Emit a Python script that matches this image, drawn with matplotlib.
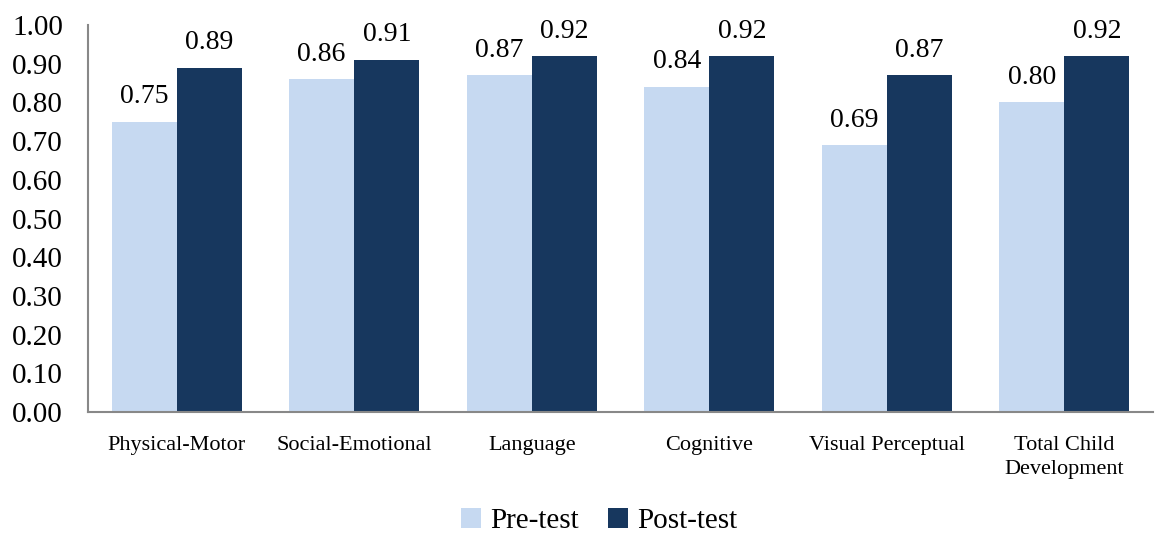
import numpy as np
import matplotlib.pyplot as plt

categories = ["Physical-Motor", "Social-Emotional", "Language", "Cognitive",
              "Visual Perceptual", "Total Child\nDevelopment"]
pre_test = [0.75, 0.86, 0.87, 0.84, 0.69, 0.80]
post_test = [0.89, 0.91, 0.92, 0.92, 0.87, 0.92]

plt.rcParams['font.family'] = ['Liberation Serif', 'DejaVu Serif']

fig = plt.figure(figsize=(11.56, 5.33), dpi=100)
ax = fig.add_axes([0.0761, 0.227, 0.9213, 0.726])

x = np.arange(len(categories))
w = 0.367
b1 = ax.bar(x - w / 2, pre_test, w, color='#C6D9F1', label='Pre-test')
b2 = ax.bar(x + w / 2, post_test, w, color='#17375E', label='Post-test')

for bars, vals in [(b1, pre_test), (b2, post_test)]:
    for r, v in zip(bars, vals):
        ax.annotate('%.2f' % v, (r.get_x() + r.get_width() / 2, v),
                    xytext=(0, 9), textcoords='offset points',
                    ha='center', va='bottom', fontsize=20)

ax.set_xlim(-0.5, len(categories) - 0.5)
ax.set_ylim(0, 1.0)
ax.set_yticks(np.arange(0, 1.01, 0.1))
ax.set_yticklabels(['%.2f' % v for v in np.arange(0, 1.01, 0.1)], fontsize=21)
ax.set_xticks(x)
ax.set_xticklabels(categories, fontsize=16, linespacing=1.35)
ax.tick_params(axis='both', length=0)
ax.tick_params(axis='x', pad=17)
ax.tick_params(axis='y', pad=18)

for s in ['top', 'right']:
    ax.spines[s].set_visible(False)
for s in ['left', 'bottom']:
    ax.spines[s].set_color('#888888')
    ax.spines[s].set_linewidth(1.5)

fig.legend(handles=[b1, b2], loc='center', bbox_to_anchor=(0.518, 0.022),
           ncol=2, frameon=False, fontsize=21, handlelength=0.7,
           handleheight=0.7, handletextpad=0.3, columnspacing=1.0,
           borderpad=0.0)

fig.savefig('out.png', dpi=100)
